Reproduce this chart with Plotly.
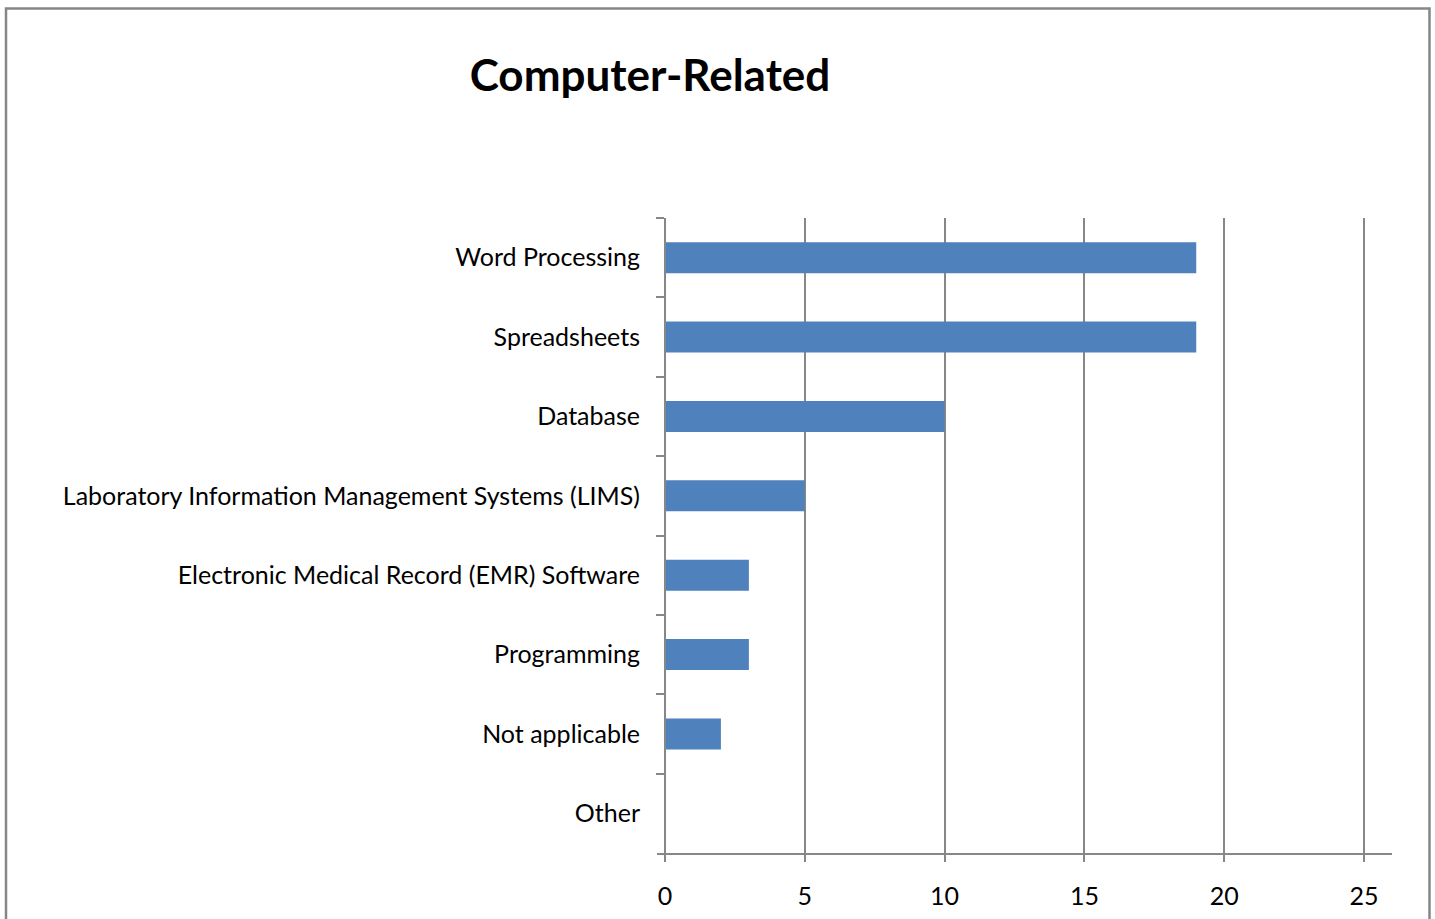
import plotly.graph_objects as go

# Survey counts for computer-related skills
categories = [
    "Word Processing",
    "Spreadsheets",
    "Database",
    "Laboratory Information Management Systems (LIMS)",
    "Electronic Medical Record (EMR) Software",
    "Programming",
    "Not applicable",
    "Other",
]
counts = [19, 19, 10, 5, 3, 3, 2, 0]
x_ticks = [0, 5, 10, 15, 20, 25]

W, H = 1435, 919
FONT = "Lato, Carlito, Calibri, sans-serif"
GRID = "#878787"
BAR = "#4F81BD"

def px_x(p):
    return p / W

def px_y(p):
    return 1 - p / H

# plot area geometry (pixels)
x_left, x_right = 657, 1392
x_zero, x_max = 665, 1364
y_top, y_bot = 218, 853
ppu = (x_max - x_zero) / 25.0
xr = [-(x_zero - x_left) / ppu, 25 + (x_right - x_max) / ppu]

fig = go.Figure(
    go.Bar(
        y=categories,
        x=counts,
        orientation="h",
        marker=dict(color=BAR, line=dict(width=0)),
        width=0.39,
    )
)

fig.update_layout(
    width=W,
    height=H,
    margin=dict(l=0, r=0, t=0, b=0),
    paper_bgcolor="white",
    plot_bgcolor="white",
    showlegend=False,
    title=dict(
        text="<b>Computer-Related</b>",
        font=dict(family=FONT, size=44, color="black"),
        x=px_x(650),
        xanchor="center",
        y=px_y(76),
        yanchor="middle",
    ),
    xaxis=dict(
        domain=[px_x(x_left), px_x(x_right)],
        range=xr,
        tickvals=x_ticks,
        ticktext=[str(v) for v in x_ticks],
        showgrid=True,
        gridcolor=GRID,
        gridwidth=2,
        zeroline=False,
        showline=True,
        linecolor=GRID,
        linewidth=2,
        ticks="outside",
        ticklen=7,
        tickwidth=2,
        tickcolor=GRID,
        tickfont=dict(family=FONT, size=25, color="black"),
        ticklabelstandoff=13,
        anchor="y",
    ),
    yaxis=dict(
        domain=[px_y(y_bot), px_y(y_top)],
        range=[7.5, -0.5],
        type="category",
        anchor="free",
        position=px_x(x_zero),
        showline=True,
        linecolor=GRID,
        linewidth=2,
        showgrid=False,
        ticks="outside",
        tickson="boundaries",
        ticklen=8,
        tickwidth=2,
        tickcolor=GRID,
        tickfont=dict(family=FONT, size=25, color="black"),
        ticklabelstandoff=19,
    ),
    shapes=[
        dict(
            type="path",
            xref="paper",
            yref="paper",
            path=f"M {px_x(6)} {px_y(925)} L {px_x(6)} {px_y(8.5)} L {px_x(1429.5)} {px_y(8.5)} L {px_x(1429.5)} {px_y(925)}",
            line=dict(color="#868686", width=2.5),
        )
    ],
)

fig.write_html("out.html")
